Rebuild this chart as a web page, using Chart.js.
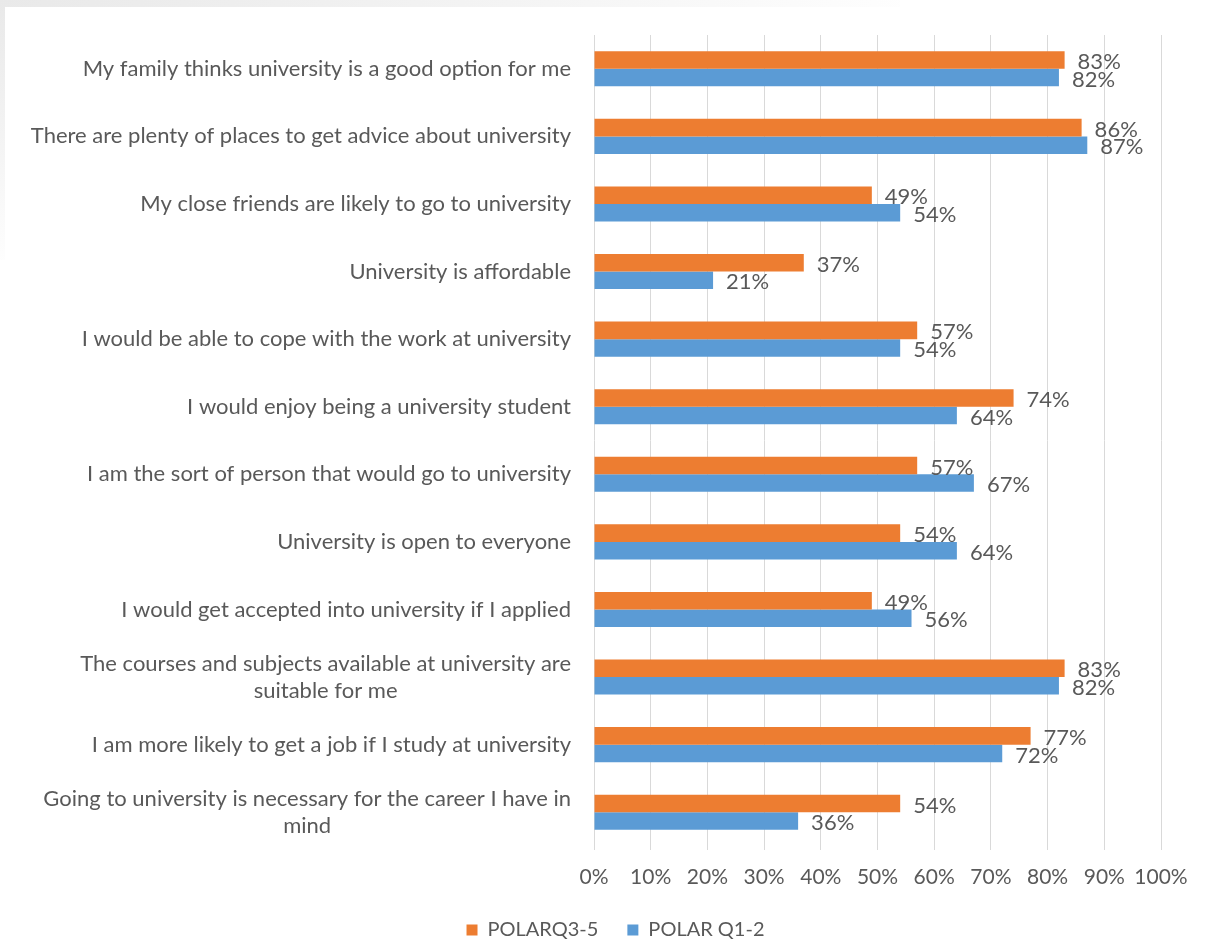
<!DOCTYPE html>
<html>
<head>
<meta charset="utf-8">
<script src="https://cdn.jsdelivr.net/npm/chart.js@4"></script>
<style>
    body { margin: 0; background: #fff; }
    .shade {
        position: absolute; left: 0; top: 0; width: 900px; height: 260px;
        background: radial-gradient(ellipse at top left, #e9e9e9 0%, #f4f4f4 40%, #fff 75%);
    }
    .panel {
        position: absolute; left: 5px; top: 7px; width: 1205px; height: 934px;
        background: #fff;
    }
    #wrap { position: absolute; left: 0; top: 0; width: 1210px; height: 941px; }
</style>
</head>
<body>
<div class="shade"></div>
<div class="panel"></div>
<div id="wrap"><canvas id="chart"></canvas></div>
<script>
// Questions, top to bottom
const categories = [
    ['My family thinks university is a good option for me'],
    ['There are plenty of places to get advice about university'],
    ['My close friends are likely to go to university'],
    ['University is affordable'],
    ['I would be able to cope with the work at university'],
    ['I would enjoy being a university student'],
    ['I am the sort of person that would go to university'],
    ['University is open to everyone'],
    ['I would get accepted into university if I applied'],
    ['The courses and subjects available at university are', 'suitable for me'],
    ['I am more likely to get a job if I study at university'],
    ['Going to university is necessary for the career I have in', 'mind']
];

const polarQ35 = [83, 86, 49, 37, 57, 74, 57, 54, 49, 83, 77, 54];
const polarQ12 = [82, 87, 54, 21, 54, 64, 67, 64, 56, 82, 72, 36];

const seriesNames = ['POLARQ3-5', 'POLAR Q1-2'];
const xTickValues = [0, 10, 20, 30, 40, 50, 60, 70, 80, 90, 100];

const textColor = '#595959';
const fontFamily = 'Lato, "Open Sans", sans-serif';

// draws the question labels: block right-aligned, lines centred in the block
const questionLabels = {
    id: 'questionLabels',
    afterDraw(chart) {
        const ctx = chart.ctx;
        const yScale = chart.scales.y;
        const right = yScale.right - 23;
        const lineH = 27;
        ctx.save();
        ctx.font = '22px ' + fontFamily;
        ctx.fillStyle = textColor;
        ctx.textAlign = 'center';
        ctx.textBaseline = 'middle';
        categories.forEach((lines, i) => {
            const y = yScale.getPixelForTick(i);
            const w = Math.max(...lines.map(l => ctx.measureText(l).width));
            const cx = right - w / 2;
            const top = y - (lines.length - 1) * lineH / 2;
            lines.forEach((l, j) => ctx.fillText(l, cx, top + j * lineH));
        });
        ctx.restore();
    }
};

// value labels at the end of each bar
const valueLabels = {
    id: 'valueLabels',
    afterDatasetsDraw(chart) {
        const ctx = chart.ctx;
        ctx.save();
        ctx.font = '22px ' + fontFamily;
        ctx.fillStyle = textColor;
        ctx.textAlign = 'left';
        ctx.textBaseline = 'middle';
        chart.data.datasets.forEach((ds, di) => {
            chart.getDatasetMeta(di).data.forEach((bar, i) => {
                ctx.fillText(ds.data[i] + '%', bar.x + 13, bar.y + 2);
            });
        });
        ctx.restore();
    }
};

// nudge the legend to where the original sits, and stop the x labels being clipped
const layoutTweak = {
    id: 'layoutTweak',
    afterLayout(chart) {
        const lg = chart.legend;
        lg.left += 35; lg.right += 35;
        lg.top += 9; lg.bottom += 9;
        chart.scales.x.bottom = chart.height;
    }
};

new Chart(document.getElementById('chart'), {
    type: 'bar',
    data: {
        labels: categories.map(c => c.join(' ')),
        datasets: [
            { label: seriesNames[0], data: polarQ35, backgroundColor: '#ED7D31' },
            { label: seriesNames[1], data: polarQ12, backgroundColor: '#5B9BD5' }
        ]
    },
    options: {
        indexAxis: 'y',
        responsive: true,
        maintainAspectRatio: false,
        animation: false,
        categoryPercentage: 0.52,
        barPercentage: 1.0,
        layout: { padding: { top: 35, right: 49, left: 0, bottom: 0 } },
        scales: {
            x: {
                min: 0,
                max: 100,
                afterBuildTicks: (scale) => { scale.ticks = xTickValues.map(v => ({ value: v })); },
                afterFit: (scale) => { scale.height = 36; },
                grid: { color: '#d9d9d9', tickLength: 4 },
                border: { display: false },
                ticks: {
                    color: textColor,
                    font: { family: fontFamily, size: 21 },
                    padding: 15,
                    maxRotation: 0,
                    callback: v => v + '%'
                }
            },
            y: {
                grid: { display: false },
                border: { display: false },
                ticks: { display: false },
                afterFit: (scale) => { scale.width = 594; }
            }
        },
        plugins: {
            legend: {
                position: 'bottom',
                labels: {
                    color: textColor,
                    font: { family: fontFamily, size: 20 },
                    boxWidth: 11,
                    boxHeight: 11,
                    padding: 29
                }
            },
            tooltip: { enabled: false }
        }
    },
    plugins: [questionLabels, valueLabels, layoutTweak]
});
</script>
</body>
</html>
